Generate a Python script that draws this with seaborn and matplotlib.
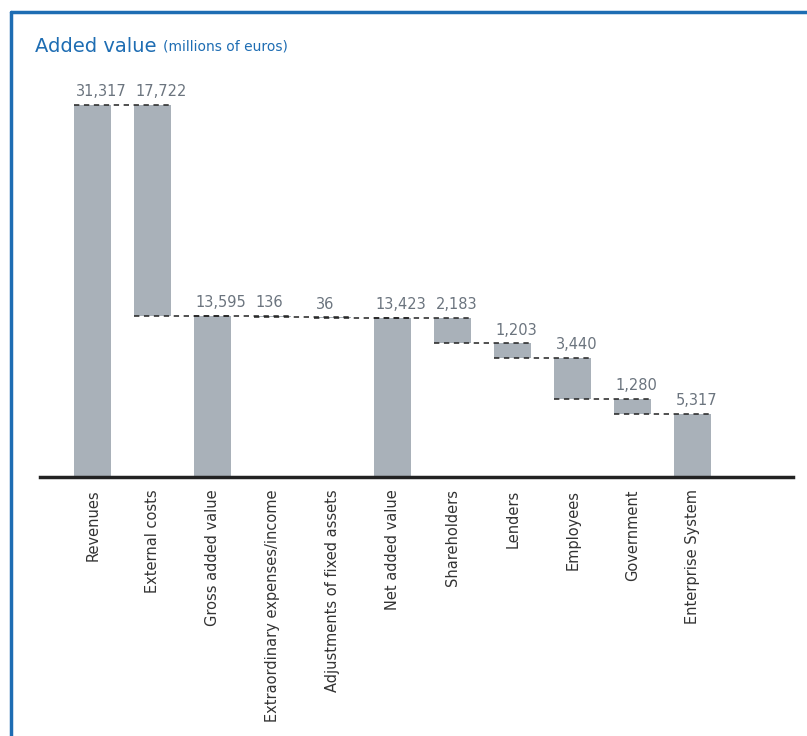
import numpy as np
import pandas as pd
import seaborn as sns
import matplotlib.pyplot as plt
from matplotlib.lines import Line2D

# waterfall data (millions of euros)
categories = ['Revenues', 'External costs', 'Gross added value',
              'Extraordinary expenses/income', 'Adjustments of fixed assets',
              'Net added value', 'Shareholders', 'Lenders', 'Employees',
              'Government', 'Enterprise System']
amounts = [31317, 17722, 13595, 136, 36, 13423, 2183, 1203, 3440, 1280, 5317]
is_total = [True, False, True, False, False, True, False, False, False, False, True]
labels = ['31,317', '17,722', '13,595', '136', '36', '13,423', '2,183',
          '1,203', '3,440', '1,280', '5,317']

# running levels -> bar bottoms / heights
bottoms, heights, after = [], [], []
level = 0
for amt, tot in zip(amounts, is_total):
    if tot:
        level = amt
        bottoms.append(0)
    else:
        level = level - amt
        bottoms.append(level)
    heights.append(amt)
    after.append(level)

df = pd.DataFrame({'cat': categories, 'height': heights})

blue = '#1e6db3'
bar_col = '#a9b1b9'
txt_gray = '#6b747e'

sns.set_style('white')
plt.rcParams['font.family'] = ['DejaVu Sans']

fig = plt.figure(figsize=(8.07, 7.36), dpi=100)
ax = fig.add_axes([40 / 807, 259 / 736, 753 / 807, 397 / 736])

width = 0.62
sns.barplot(data=df, x='cat', y='height', order=categories, color=bar_col,
            saturation=1, width=width, errorbar=None, bottom=bottoms, ax=ax,
            edgecolor='none', zorder=2)

# dashed connectors
for i in range(len(categories) - 1):
    ax.plot([i - width / 2, i + 1 + width / 2], [after[i], after[i]],
            color='#222222', lw=1.1, ls=(0, (3.5, 3)), zorder=3)

# value labels
for i, lab in enumerate(labels):
    top = bottoms[i] + heights[i]
    ax.annotate(lab, (i - width / 2, top), xytext=(1, 4),
                textcoords='offset points', ha='left', va='bottom',
                fontsize=10.5, color=txt_gray)

ax.set_xlim(-0.88, 11.67)
ax.set_ylim(0, max(amounts) * 397 / 372)
for s in ['top', 'right', 'left']:
    ax.spines[s].set_visible(False)
ax.spines['bottom'].set_linewidth(2.5)
ax.spines['bottom'].set_color('#222222')
ax.set_yticks([])
ax.set_xlabel('')
ax.set_ylabel('')
ax.tick_params(axis='x', length=0, pad=9, labelsize=10.5, labelcolor='#333333')
plt.setp(ax.get_xticklabels(), rotation=90, va='top', ha='center')

# title
fig.text(35 / 807, 1 - 46 / 736, 'Added value', fontsize=14, color=blue,
         va='center', ha='left')
fig.text(163 / 807, 1 - 47 / 736, '(millions of euros)', fontsize=10,
         color=blue, va='center', ha='left')

# blue frame
fig.add_artist(Line2D([11 / 807, 1], [1 - 12 / 736, 1 - 12 / 736],
                      color=blue, lw=2.5, transform=fig.transFigure))
fig.add_artist(Line2D([11 / 807, 11 / 807], [0, 1 - 12 / 736],
                      color=blue, lw=2.5, transform=fig.transFigure))

fig.savefig('out.png', dpi=100)
